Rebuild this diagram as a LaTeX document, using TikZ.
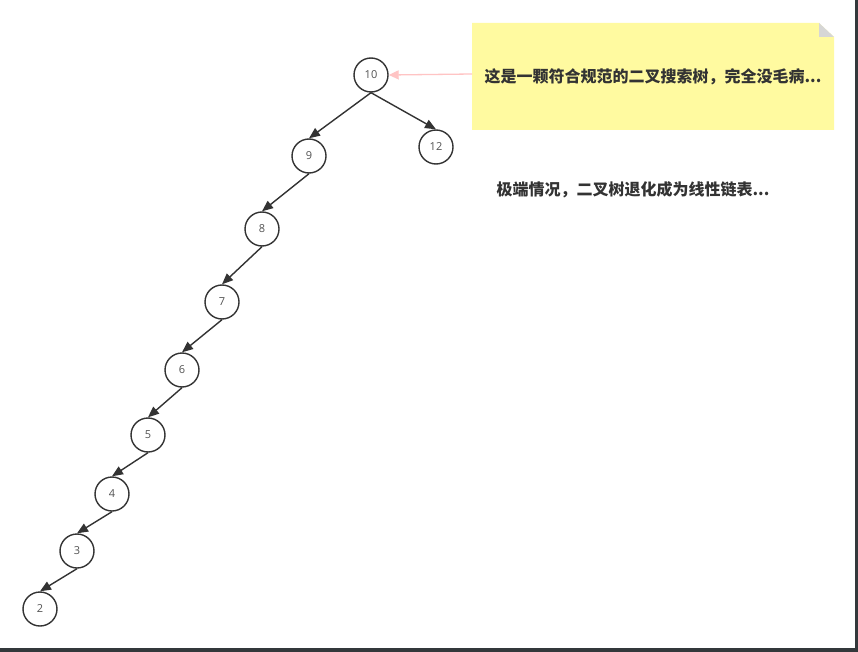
\documentclass[tikz,border=0pt]{standalone}
\usepackage{fontspec}
\setmainfont{Open Sans}
\newfontfamily\cjk{Noto Sans CJK SC}
\usetikzlibrary{arrows.meta}
\definecolor{ink}{HTML}{333333}
\definecolor{notefill}{HTML}{FFFAA0}
\definecolor{foldgrey}{HTML}{D6D6D6}
\definecolor{pinkarrow}{HTML}{FFC4C4}
\definecolor{frame}{HTML}{33383B}
\tikzset{
  tnode/.style={circle, draw=ink, line width=1.4pt, fill=white, minimum size=34pt, inner sep=0pt, font=\fontsize{11}{13}\selectfont, text=ink!85},
  tedge/.style={draw=ink, line width=1.4pt, -{Triangle[length=11pt,width=9pt]}},
  ctext/.style={font=\cjk\bfseries\fontsize{16}{19}\selectfont, text=ink}
}
\begin{document}
\begin{tikzpicture}[x=1pt,y=-1pt]
\useasboundingbox (0,0) rectangle (858,652);
\fill[white] (0,0) rectangle (858,652);
% frame at right and bottom
\fill[frame] (855,0) rectangle (858,652);
\fill[frame] (0,648) rectangle (858,652);
% note
\fill[notefill] (472,23) -- (819,23) -- (834,37) -- (834,130) -- (472,130) -- cycle;
\fill[foldgrey] (819,23) -- (819,37) -- (834,37) -- cycle;
\node[ctext] (note) at (653,77) {这是一颗符合规范的二叉搜索树，完全没毛病...};
\coordinate (noteleft) at (472,74);
\node[ctext] (extreme) at (633,190) {极端情况，二叉树退化成为线性链表...};
% tree nodes
\node[tnode] (n10) at (371,75) {10};
\node[tnode] (n12) at (436,147) {12};
\node[tnode] (n9) at (309,156) {9};
\node[tnode] (n8) at (262,229) {8};
\node[tnode] (n7) at (222,302) {7};
\node[tnode] (n6) at (182,370) {6};
\node[tnode] (n5) at (148,435) {5};
\node[tnode] (n4) at (112,494) {4};
\node[tnode] (n3) at (77,551) {3};
\node[tnode] (n2) at (40,609) {2};
% edges
\draw[tedge] (n10.south) -- (n9.north);
\draw[tedge] (n10.south) -- (n12.north);
\draw[tedge] (n9.south) -- (n8.north);
\draw[tedge] (n8.south) -- (n7.north);
\draw[tedge] (n7.south) -- (n6.north);
\draw[tedge] (n6.south) -- (n5.north);
\draw[tedge] (n5.south) -- (n4.north);
\draw[tedge] (n4.south) -- (n3.north);
\draw[tedge] (n3.south) -- (n2.north);
\draw[pinkarrow, line width=1.3pt, -{Triangle[length=10pt,width=9pt]}] (noteleft) -- (n10.east);
\end{tikzpicture}
\end{document}
